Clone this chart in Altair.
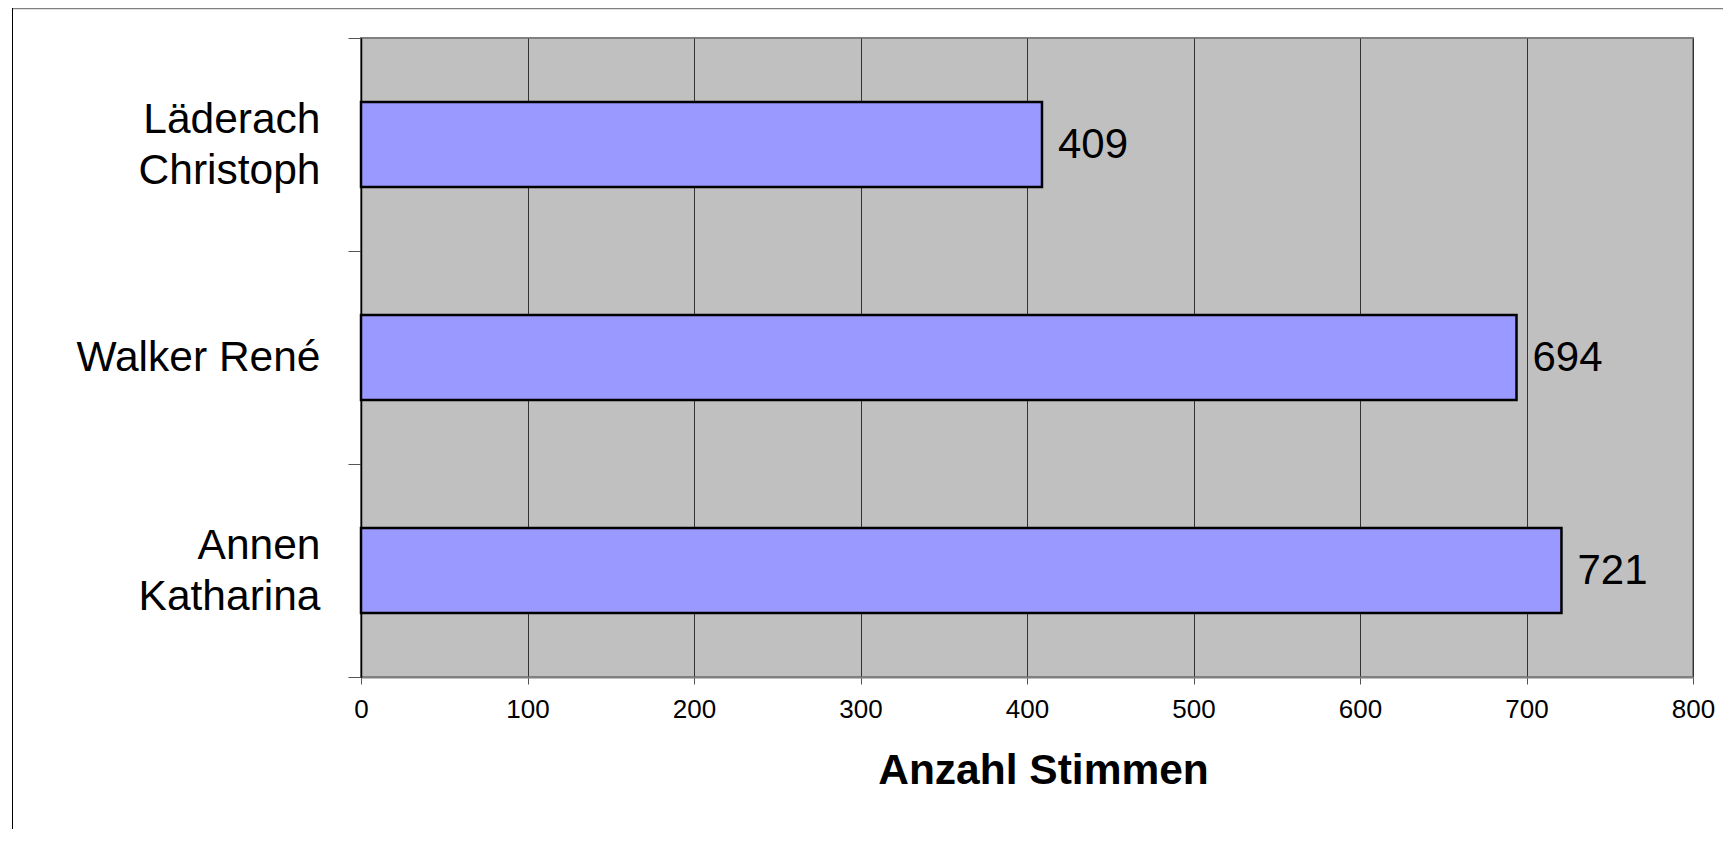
import altair as alt
import pandas as pd

# Data
candidates = ["Läderach|Christoph", "Walker René", "Annen|Katharina"]
votes = [409, 694, 721]
x_ticks = [0, 100, 200, 300, 400, 500, 600, 700, 800]
x_title = "Anzahl Stimmen"

df = pd.DataFrame({"name": candidates, "votes": votes})

FONT = "Liberation Sans"

y_enc = alt.Y(
    "name:N",
    sort=candidates,
    scale=alt.Scale(paddingInner=0, paddingOuter=0),
    axis=alt.Axis(
        title=None,
        labelExpr="split(datum.label, '|')",
        labelFont=FONT,
        labelFontSize=42.5,
        labelLineHeight=51,
        labelPadding=28,
        labelLimit=500,
        labelColor="black",
        labelOffset={
            "condition": {"test": "indexof(datum.label, '|') >= 0", "value": -25},
            "value": 0,
        },
        tickBand="extent",
        tickSize=13,
        tickColor="#555555",
        domainColor="black",
        domainWidth=1.5,
        grid=False,
    ),
)

x_enc = alt.X(
    "votes:Q",
    scale=alt.Scale(domain=[0, 800], nice=False),
    axis=alt.Axis(
        values=x_ticks,
        title=x_title,
        titleFont=FONT,
        titleFontSize=42.5,
        titleFontWeight="bold",
        titleColor="black",
        titleX=682,
        titleY=106,
        titleAlign="center",
        titleBaseline="alphabetic",
        labelFont=FONT,
        labelFontSize=26,
        labelColor="black",
        labelBaseline="alphabetic",
        labelPadding=33,
        labelFlush=False,
        tickSize=7,
        tickColor="#555555",
        domainColor="#808080",
        domainWidth=2,
        grid=True,
        gridColor="#333333",
        gridWidth=1,
        gridOpacity=1,
    ),
)

base = alt.Chart(df)

bars = base.mark_bar(
    fill="#9999FF", stroke="black", strokeWidth=2.5, height={"band": 0.4}
).encode(x=x_enc, y=y_enc)

labels = base.mark_text(
    align="left", baseline="middle", dx=16, fontSize=42, font=FONT, color="black"
).encode(x="votes:Q", y=alt.Y("name:N", sort=candidates), text="votes:Q")

frame_data = alt.Data(values=[{"k": 1}])
top_line = alt.Chart(frame_data).mark_rule(color="#808080", strokeWidth=1.5).encode(
    x=alt.value(-349), x2=alt.value(1400), y=alt.value(-29.5)
)
left_line = alt.Chart(frame_data).mark_rule(color="black", strokeWidth=1).encode(
    x=alt.value(-348.5), y=alt.value(-31), y2=alt.value(820)
)

chart = (
    alt.layer(bars, labels, top_line, left_line)
    .properties(
        width=1332,
        height=639,
        padding={"left": 353, "top": 30, "right": 30, "bottom": 152},
        autosize=alt.AutoSizeParams(type="none"),
        background="white",
    )
    .configure_view(stroke="#808080", strokeWidth=2, fill="#C0C0C0")
)

chart.save("out.html", embed_options={"renderer": "svg", "actions": False})
